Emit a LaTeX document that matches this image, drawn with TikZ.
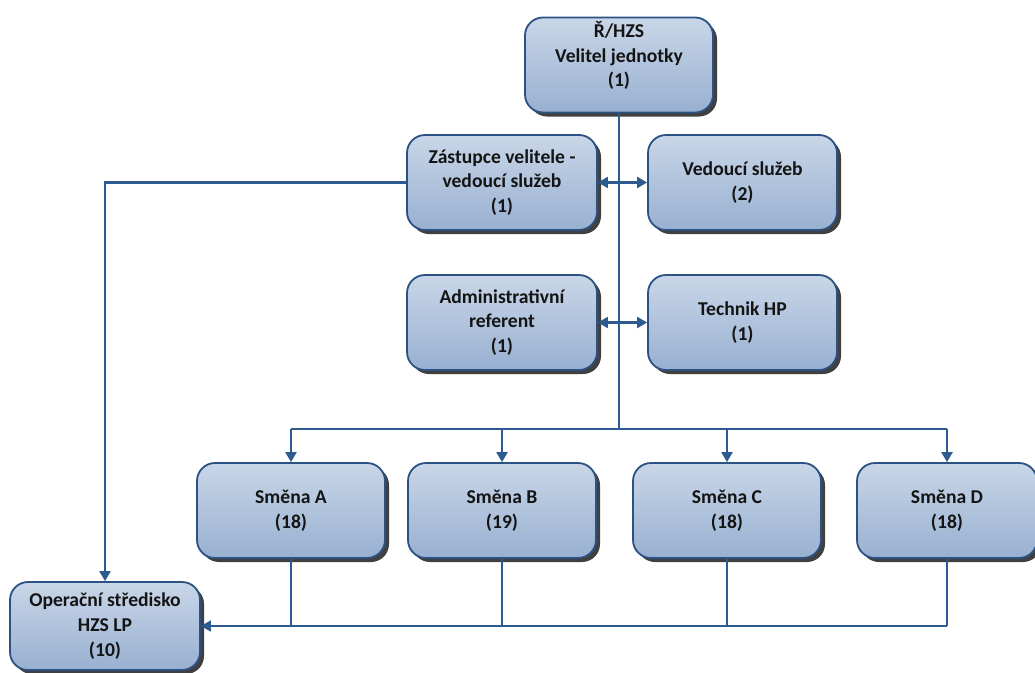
\documentclass[tikz,border=0pt]{standalone}
\usepackage{fontspec}
\setmainfont{Carlito}
\usetikzlibrary{arrows.meta,shadows,calc}
\definecolor{boxline}{HTML}{2C5283}
\definecolor{boxtop}{HTML}{C9D6E8}
\definecolor{boxbot}{HTML}{98B0D1}
\definecolor{shadowc}{HTML}{404040}
\definecolor{linec}{HTML}{2D5A8F}
\definecolor{txt}{HTML}{141414}
\newcommand\bxfont{\fontsize{19.6}{24.8}\selectfont\bfseries}
\tikzset{
  box/.style={draw=boxline, line width=1.8pt, rounded corners=18pt,
    top color=boxtop, bottom color=boxbot,
    drop shadow={shadow xshift=4pt, shadow yshift=-4pt, fill=shadowc, opacity=1},
    minimum width=188pt, minimum height=95pt, inner sep=0pt,
    align=center, font=\bxfont, text=txt},
  boxtext/.style={align=center, font=\bxfont, text=txt, inner sep=0pt},
  tip/.style={-{Triangle[length=10pt,width=11pt]}},
  main/.style={draw=linec, line width=2.2pt},
  thinl/.style={draw=linec, line width=1.2pt},
}
\begin{document}
\begin{tikzpicture}[x=1pt,y=-1pt]
\useasboundingbox (0,0) rectangle (1035,672);
\fill[white] (0,0) rectangle (1035,672);
% boxes
\node[box] (top) at (619,65) {};
\node[boxtext] (topT) at (619,55.5) {Ř/HZS\\Velitel jednotky\\(1)};
\node[box, minimum width=190pt] (zast) at (502,182.5) {Zástupce velitele -\\vedoucí služeb\\(1)};
\node[box, minimum width=189pt] (ved) at (742.5,182.5) {Vedoucí služeb\\(2)};
\node[box, minimum width=190pt] (admin) at (502,322.5) {Administrativní\\referent\\(1)};
\node[box, minimum width=189pt] (tech) at (742.5,322.5) {Technik HP\\(1)};
\node[box] (smA) at (291,510.5) {Směna A\\(18)};
\node[box] (smB) at (502,510.5) {Směna B\\(19)};
\node[box] (smC) at (727,510.5) {Směna C\\(18)};
\node[box, minimum width=180pt] (smD) at (947,510.5) {Směna D\\(18)};
\node[box, minimum width=190pt, minimum height=88pt] (oper) at (105,626) {Operační středisko\\HZS LP\\(10)};
% connectors
\coordinate (bus) at (619,429);
\draw[main] (top.south) -- (bus);
\draw[main] (smA.north |- bus) -- (smD.north |- bus);
\draw[main,tip] (smA.north |- bus) -- (smA.north);
\draw[main,tip] (smB.north |- bus) -- (smB.north);
\draw[main,tip] (smC.north |- bus) -- (smC.north);
\draw[main,tip] (smD.north |- bus) -- (smD.north);
\draw[main,{Triangle[length=10pt,width=11pt]}-{Triangle[length=10pt,width=11pt]}] (zast.east) -- (ved.west);
\draw[main,{Triangle[length=10pt,width=11pt]}-{Triangle[length=10pt,width=11pt]}] (admin.east) -- (tech.west);
\draw[main,tip] (zast.west) -| (oper.north);
\draw[thinl] (smA.south) -- (smA.south |- oper.east);
\draw[thinl] (smB.south) -- (smB.south |- oper.east);
\draw[thinl] (smC.south) -- (smC.south |- oper.east);
\draw[thinl] (smD.south) -- (smD.south |- oper.east);
\draw[thinl,line width=1.6pt,tip] (smD.south |- oper.east) -- (oper.east);
\end{tikzpicture}
\end{document}
